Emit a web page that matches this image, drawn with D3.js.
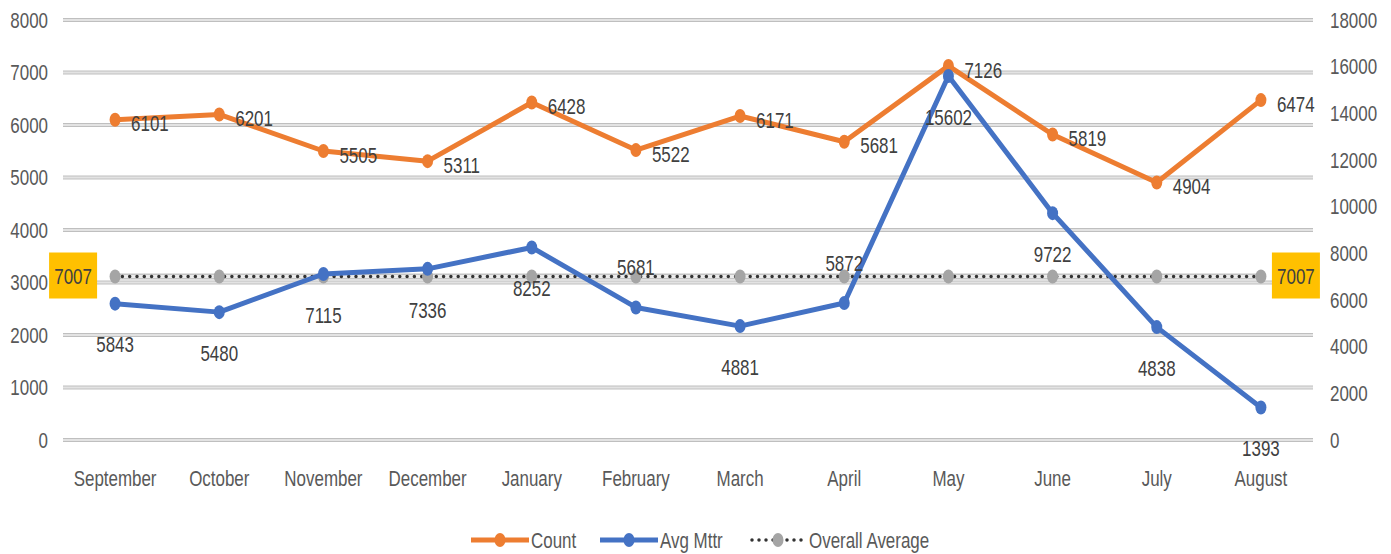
<!DOCTYPE html>
<html><head><meta charset="utf-8">
<script src="https://cdn.jsdelivr.net/npm/d3@7"></script>
<style>
body{margin:0;background:#fff;}
svg text{font-family:"Liberation Sans",Arial,sans-serif;}
</style></head>
<body><svg id="c" width="1391" height="554"></svg>
<script>
const months = ["September","October","November","December","January","February","March","April","May","June","July","August"];
const countValues = [6101,6201,5505,5311,6428,5522,6171,5681,7126,5819,4904,6474];
const mttrValues = [5843,5480,7115,7336,8252,5681,4881,5872,15602,9722,4838,1393];
const overallAverage = [7007,7007,7007,7007,7007,7007,7007,7007,7007,7007,7007,7007];
const mttrLabelPlacement = ["below","below","below","below","below","above","below","above","below","below","below","below"];
const leftTicks = [0,1000,2000,3000,4000,5000,6000,7000,8000];
const rightTicks = [0,2000,4000,6000,8000,10000,12000,14000,16000,18000];
const seriesNames = ["Count","Avg Mttr","Overall Average"];

const svg = d3.select("#c");
const W = 1391, H = 554;
const m = {left:63, right:78, top:20, bottom:114};
const x = d3.scaleBand().domain(months).range([m.left, W - m.right]);
const yL = d3.scaleLinear().domain([0,8000]).range([H - m.bottom, m.top]);
const yR = d3.scaleLinear().domain([0,18000]).range([H - m.bottom, m.top]);
const cx = d => x(d) + x.bandwidth()/2;

const ORANGE = "#ED7D31", BLUE = "#4472C4", GRAY = "#A5A5A5";
const tickColor = "#595959", labelColor = "#404040";
const SQ = 0.77, FS = "22px";

function squish(sel) {
  sel.each(function() {
    const t = d3.select(this);
    const tx = +t.attr("x") || 0, ty = +t.attr("y") || 0;
    t.attr("x", 0).attr("y", 0).attr("transform", `translate(${tx},${ty}) scale(${SQ},1)`);
  });
}

// gridlines
const grid = svg.append("g");
leftTicks.forEach(t => {
  grid.append("line").attr("x1", m.left).attr("x2", W - m.right).attr("y1", yL(t)).attr("y2", yL(t))
    .attr("stroke", "#bfbfbf").attr("stroke-width", 4);
  grid.append("line").attr("x1", m.left).attr("x2", W - m.right).attr("y1", yL(t)).attr("y2", yL(t))
    .attr("stroke", "#e3e3e3").attr("stroke-width", 2);
});

// axes
const axL = svg.append("g").attr("transform", `translate(${m.left - 15},0)`)
  .call(d3.axisLeft(yL).tickValues(leftTicks).tickSize(0).tickPadding(0).tickFormat(d3.format("d")));
const axR = svg.append("g").attr("transform", `translate(${W - m.right + 17},0)`)
  .call(d3.axisRight(yR).tickValues(rightTicks).tickSize(0).tickPadding(0).tickFormat(d3.format("d")));
const axB = svg.append("g").attr("transform", `translate(0,${H - m.bottom + 38})`)
  .call(d3.axisBottom(x).tickSize(0).tickPadding(0));
[axL, axR, axB].forEach(a => {
  a.select(".domain").remove();
  a.selectAll("text").attr("fill", tickColor).style("font-size", FS).style("font-family", "Liberation Sans, Arial, sans-serif");
});
axB.selectAll("text").attr("dy", "0.35em");
[axL, axR, axB].forEach(a => squish(a.selectAll("text")));

// Overall average line
const avgLine = d3.line().x((d,i) => cx(months[i])).y(d => yR(d));
svg.append("path").datum(overallAverage).attr("d", avgLine).attr("fill","none")
  .attr("stroke", "#c4c4c4").attr("stroke-width", 6);
svg.append("path").datum(overallAverage).attr("d", avgLine).attr("fill","none")
  .attr("stroke", "#ececec").attr("stroke-width", 3);
svg.append("path").datum(overallAverage).attr("d", avgLine).attr("fill","none")
  .attr("stroke", "#333").attr("stroke-width", 3.5).attr("stroke-linecap","round")
  .attr("stroke-dasharray", "0 7.3");
svg.append("g").selectAll("ellipse").data(overallAverage).join("ellipse")
  .attr("cx", (d,i) => cx(months[i])).attr("cy", d => yR(d)).attr("rx", 5.5).attr("ry", 7)
  .attr("fill", GRAY);

// Count line
const countLine = d3.line().x((d,i) => cx(months[i])).y(d => yL(d));
svg.append("path").datum(countValues).attr("d", countLine).attr("fill","none")
  .attr("stroke", ORANGE).attr("stroke-width", 5).attr("stroke-linejoin","round");
svg.append("g").selectAll("ellipse").data(countValues).join("ellipse")
  .attr("cx", (d,i) => cx(months[i])).attr("cy", d => yL(d)).attr("rx", 5.5).attr("ry", 7)
  .attr("fill", ORANGE);

// Mttr line
const mttrLine = d3.line().x((d,i) => cx(months[i])).y(d => yR(d));
svg.append("path").datum(mttrValues).attr("d", mttrLine).attr("fill","none")
  .attr("stroke", BLUE).attr("stroke-width", 5).attr("stroke-linejoin","round");
svg.append("g").selectAll("ellipse").data(mttrValues).join("ellipse")
  .attr("cx", (d,i) => cx(months[i])).attr("cy", d => yR(d)).attr("rx", 5.5).attr("ry", 7)
  .attr("fill", BLUE);

// Count labels
svg.append("g").selectAll("text").data(countValues).join("text")
  .attr("x", (d,i) => cx(months[i]) + 16).attr("y", d => yL(d) + 4).attr("dy","0.35em")
  .attr("fill", labelColor).style("font-size",FS).text(d => d)
  .call(squish);

// Mttr labels
svg.append("g").selectAll("text").data(mttrValues).join("text")
  .attr("x", (d,i) => cx(months[i])).attr("y", (d,i) => yR(d) + (mttrLabelPlacement[i] === "above" ? -40 : 41))
  .attr("dy","0.35em").attr("text-anchor","middle")
  .attr("fill", labelColor).style("font-size",FS).text(d => d)
  .call(squish);

// Overall average end labels
const avgLabelIdx = [0, overallAverage.length - 1];
avgLabelIdx.forEach((i, k) => {
  const px = cx(months[i]) + (k === 0 ? -42 : 35);
  const py = yR(overallAverage[i]);
  const g = svg.append("g");
  g.append("rect").attr("x", px - 24).attr("y", py - 24).attr("width", 48).attr("height", 46)
    .attr("fill", "#FFC000");
  g.append("text").attr("x", px).attr("y", py).attr("dy","0.35em").attr("text-anchor","middle")
    .attr("fill", labelColor).style("font-size",FS).text(overallAverage[i]).call(squish);
});

// Legend
const ly = 540;
const leg = svg.append("g");
const legItems = [
  {name: seriesNames[0], color: ORANGE, x: 471, type: "solid"},
  {name: seriesNames[1], color: BLUE, x: 600, type: "solid"},
  {name: seriesNames[2], color: GRAY, x: 749, type: "dots"}
];
legItems.forEach(it => {
  if (it.type === "solid") {
    leg.append("line").attr("x1", it.x).attr("x2", it.x + 58).attr("y1", ly).attr("y2", ly)
      .attr("stroke", it.color).attr("stroke-width", 5);
  } else {
    leg.append("line").attr("x1", it.x + 3).attr("x2", it.x + 56).attr("y1", ly).attr("y2", ly)
      .attr("stroke", "#333").attr("stroke-width", 3.5).attr("stroke-linecap","round")
      .attr("stroke-dasharray", "0 7");
  }
  leg.append("ellipse").attr("cx", it.x + 29).attr("cy", ly).attr("rx", 5.5).attr("ry", 7).attr("fill", it.color);
  leg.append("text").attr("x", it.x + 60).attr("y", ly).attr("dy","0.35em")
    .attr("fill", tickColor).style("font-size",FS).text(it.name).call(squish);
});
</script></body></html>
